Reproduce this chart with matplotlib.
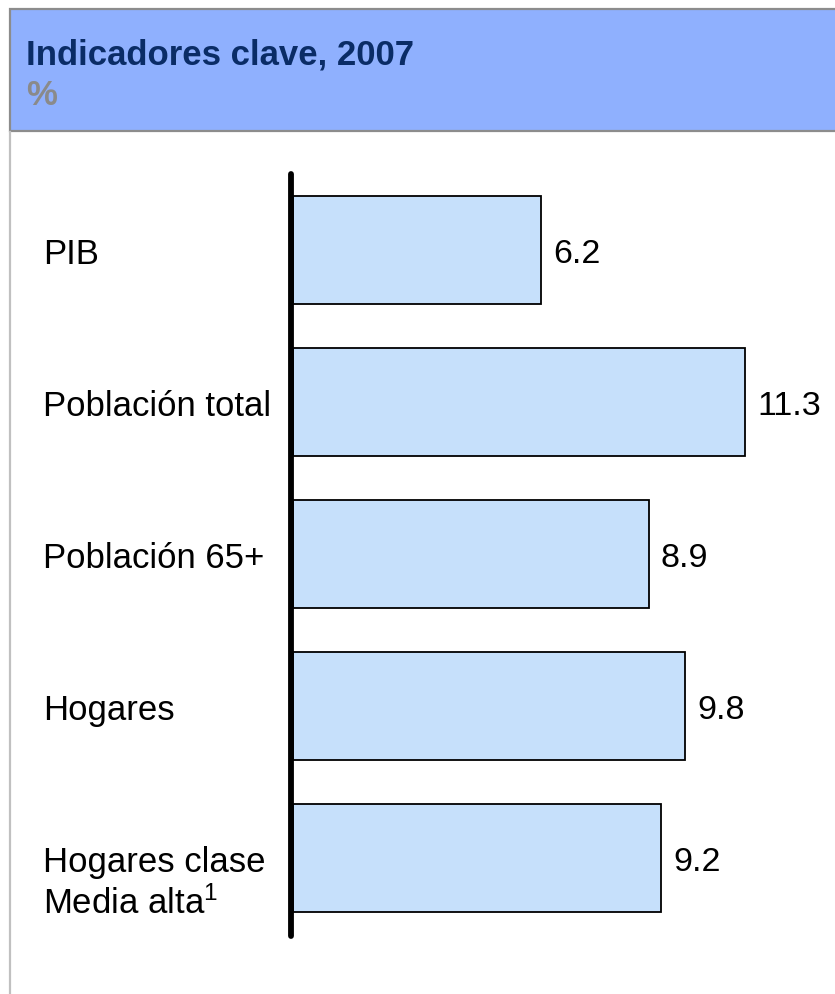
#!/usr/bin/env python3
"""Indicadores clave 2007 - horizontal bar chart with header banner."""

import matplotlib
matplotlib.use("Agg")
import matplotlib.pyplot as plt
from matplotlib.patches import Rectangle
from matplotlib.lines import Line2D

plt.rcParams['font.family'] = ['Liberation Sans', 'DejaVu Sans']
plt.rcParams['mathtext.fontset'] = 'custom'
plt.rcParams['mathtext.rm'] = 'Liberation Sans'
plt.rcParams['mathtext.it'] = 'Liberation Sans'

# data
categories = ['PIB', 'Población total', 'Población 65+', 'Hogares', 'Hogares clase\nMedia alta$^{1}$']
values = [6.2, 11.3, 8.9, 9.8, 9.2]
title = 'Indicadores clave, 2007'
unit = '%'

W, H = 835, 995
DPI = 100

def fx(px):
    return px / W

def fy(py):
    return 1 - py / H

fig = plt.figure(figsize=(W / DPI, H / DPI), dpi=DPI)

# header banner
fig.patches.append(Rectangle((fx(10), fy(132)), fx(840) - fx(10), fy(10) - fy(132),
                             transform=fig.transFigure, facecolor='#8fb0fe',
                             edgecolor='#8c8c8c', linewidth=1.6, zorder=0))
fig.lines.append(Line2D([fx(10), fx(10)], [fy(133), 0], transform=fig.transFigure,
                        color='#c0c0c0', linewidth=1.6))
fig.text(fx(26), fy(64), title, fontsize=25, fontweight='bold', color='#0a2c66',
         va='baseline', ha='left')
fig.text(fx(26), fy(105), unit, fontsize=25, fontweight='bold', color='#8a8a8a',
         va='baseline', ha='left')

# plot area: x=0 at 293 px, 40 px per unit; rows 152 px apart
ax = fig.add_axes([fx(293), fy(937), fx(835) - fx(293), fy(175) - fy(937)])
ax.set_xlim(0, (835 - 293) / 40)
n = len(categories)
ax.set_ylim(n - 1 + (937 - 859) / 152, -(251 - 175) / 152)
ax.axis('off')

ys = list(range(n))
ax.barh(ys, values, height=108 / 152, color='#c6e0fb', edgecolor='black',
        linewidth=1.3, zorder=2)
# thick vertical axis line, sitting just left of the bar bases
ax.plot([-0.05, -0.05], ax.get_ylim(), color='black', linewidth=4.2,
        solid_capstyle='round', clip_on=False, zorder=3)

for i, (cat, v) in enumerate(zip(categories, values)):
    for k, line in enumerate(cat.split('\n')):
        ax.annotate(line, xy=(43, i), xycoords=('figure pixels', 'data'),
                    xytext=(0, -13 - 42 * k), textcoords='offset pixels',
                    fontsize=25, va='baseline', ha='left', color='black')
    ax.annotate(f'{v:.1f}', xy=(v, i), xytext=(12, -12), textcoords='offset pixels',
                fontsize=24.5, va='baseline', ha='left', color='black')

fig.savefig('out.png', dpi=DPI)
